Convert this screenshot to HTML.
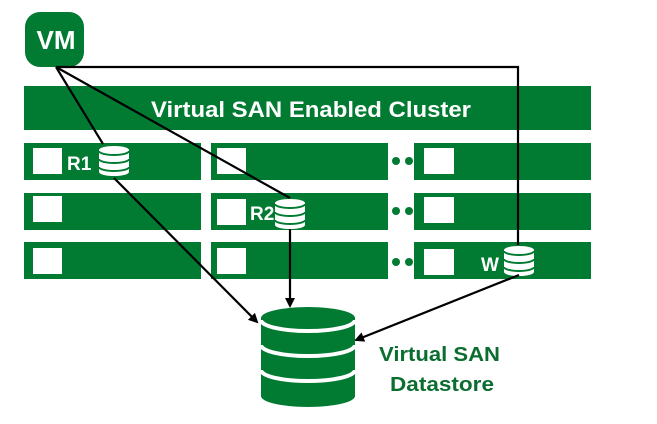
<!DOCTYPE html>
<html><head><style>
html,body{margin:0;padding:0;background:#fff;}
body{width:657px;height:419px;position:relative;overflow:hidden;font-family:"Liberation Sans",sans-serif;}
</style></head><body>
<svg width="657" height="419" viewBox="0 0 657 419" xmlns="http://www.w3.org/2000/svg">
<defs>
<g id="db">
 <rect x="-15" y="-10" width="30" height="22" fill="#fff"/>
 <ellipse cx="0" cy="-10" rx="15" ry="4" fill="#fff"/>
 <ellipse cx="0" cy="12" rx="15" ry="4" fill="#fff"/>
 <path d="M-15,-9 A15,4 0 0 0 15,-9" fill="none" stroke="#027b32" stroke-width="2"/>
 <path d="M-15,-1 A15,4 0 0 0 15,-1" fill="none" stroke="#027b32" stroke-width="2"/>
 <path d="M-15,7 A15,4 0 0 0 15,7" fill="none" stroke="#027b32" stroke-width="2"/>
</g>
<marker id="ah" markerWidth="10" markerHeight="10" refX="8" refY="5" orient="auto" markerUnits="userSpaceOnUse">
 <path d="M0,0 L10,5 L0,10 z" fill="#000"/>
</marker>
</defs>
<rect x="25" y="12" width="59" height="55" rx="15" fill="#027b32"/>
<text x="56" y="49" font-size="26" font-weight="bold" fill="#fff" text-anchor="middle">VM</text>
<rect x="24" y="86" width="567" height="44" fill="#027b32"/>
<text x="151" y="117" font-size="22" font-weight="bold" fill="#fff" textLength="320" lengthAdjust="spacingAndGlyphs">Virtual SAN Enabled Cluster</text>
<g fill="#027b32">
<rect x="24" y="143" width="177" height="37"/><rect x="211" y="143" width="177" height="37"/><rect x="414" y="143" width="177" height="37"/>
<rect x="24" y="193" width="177" height="37"/><rect x="211" y="193" width="177" height="37"/><rect x="414" y="193" width="177" height="37"/>
<rect x="24" y="242" width="177" height="37"/><rect x="211" y="242" width="177" height="37"/><rect x="414" y="242" width="177" height="37"/>
<circle cx="396" cy="161" r="4"/><circle cx="409" cy="161" r="4"/>
<circle cx="396" cy="211" r="4"/><circle cx="409" cy="211" r="4"/>
<circle cx="396" cy="262" r="4"/><circle cx="409" cy="262" r="4"/>
</g>
<g fill="#fff">
<rect x="33" y="148" width="29" height="26"/><rect x="217" y="148" width="29" height="26"/><rect x="424" y="148" width="30" height="26"/>
<rect x="33" y="196" width="29" height="26"/><rect x="217" y="199" width="29" height="26"/><rect x="424" y="197" width="30" height="26"/>
<rect x="33" y="248" width="29" height="26"/><rect x="217" y="248" width="29" height="26"/><rect x="424" y="249" width="30" height="26"/>
</g>
<text x="67" y="170" font-size="19" font-weight="bold" fill="#fff">R1</text>
<text x="250" y="220" font-size="19" font-weight="bold" fill="#fff">R2</text>
<text x="481" y="271" font-size="19" font-weight="bold" fill="#fff">W</text>
<use href="#db" x="114" y="160"/>
<use href="#db" x="290" y="213"/>
<use href="#db" x="519" y="260"/>
<g stroke="#000" stroke-width="2.2" fill="none">
<polyline points="56,67 518,67 518,245"/>
<line x1="56" y1="67" x2="103" y2="144"/>
<line x1="56" y1="67" x2="290" y2="198"/>
<line x1="114" y1="178" x2="257" y2="322" marker-end="url(#ah)"/>
<line x1="290" y1="229" x2="290" y2="306" marker-end="url(#ah)"/>
<line x1="519" y1="275" x2="356" y2="340" marker-end="url(#ah)"/>
</g>
<g>
<rect x="261" y="318" width="94" height="78" fill="#027b32"/>
<ellipse cx="308" cy="318" rx="47" ry="11" fill="#027b32"/>
<ellipse cx="308" cy="396" rx="47" ry="11" fill="#027b32"/>
<path d="M261,320 A47,11 0 0 0 355,320" fill="none" stroke="#fff" stroke-width="4"/>
<path d="M261,345 A47,11 0 0 0 355,345" fill="none" stroke="#fff" stroke-width="4"/>
<path d="M261,370 A47,11 0 0 0 355,370" fill="none" stroke="#fff" stroke-width="4"/>
</g>
<text x="379" y="361" font-size="20" font-weight="bold" fill="#0b6e30" textLength="121" lengthAdjust="spacingAndGlyphs">Virtual SAN</text>
<text x="390" y="391" font-size="20" font-weight="bold" fill="#0b6e30" textLength="104" lengthAdjust="spacingAndGlyphs">Datastore</text>
</svg>
</body></html>
